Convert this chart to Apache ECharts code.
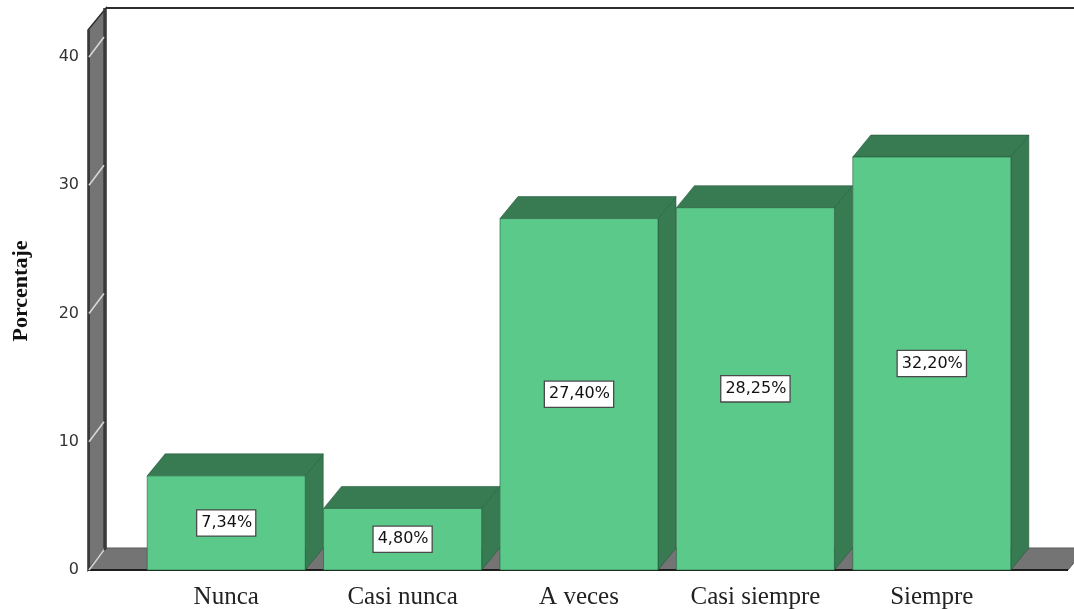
<!DOCTYPE html>
<html>
<head>
<meta charset="utf-8">
<script src="https://cdn.jsdelivr.net/npm/echarts@6/dist/echarts.min.js"></script>
<style>
  html, body { margin: 0; padding: 0; background: #fff; }
  #chart { width: 1074px; height: 609px; }
</style>
</head>
<body>
<div id="chart"></div>
<script>
// Frequency of answers, in percent
const categories = ['Nunca', 'Casi nunca', 'A veces', 'Casi siempre', 'Siempre'];
const percentages = [7.34, 4.80, 27.40, 28.25, 32.20];
const yTicks = [0, 10, 20, 30, 40];

// 3D look: depth offset of the back plane
const DEPTH_X = 18;
const DEPTH_Y = -22;

const FRONT = '#5bc98a';
const SHADE = '#387b53';
const EDGE = 'rgba(35, 85, 55, 0.7)';
const WALL = '#747474';
const WALL_EDGE = '#2e2e2e';

function fmtPct(v) {
  return v.toFixed(2).replace('.', ',') + '%';
}

// Left wall, floor and back panel of the 3D box
function renderFrame(params, api) {
  if (params.dataIndex !== 0) return;
  const cs = params.coordSys;
  const fx0 = cs.x - 50;                 // front-left edge of the wall
  const fx1 = cs.x + cs.width + 48;      // front-right end of the floor
  const yBase = api.coord([0, 0])[1];
  const yTop = cs.y - 27;
  const children = [];

  // back panel top border
  children.push({
    type: 'line',
    shape: { x1: fx0 + DEPTH_X, y1: yTop + DEPTH_Y, x2: fx1 + DEPTH_X + 20, y2: yTop + DEPTH_Y },
    style: { stroke: WALL_EDGE, lineWidth: 2 }
  });

  // floor
  children.push({
    type: 'polygon',
    shape: { points: [
      [fx0, yBase], [fx1, yBase],
      [fx1 + DEPTH_X, yBase + DEPTH_Y], [fx0 + DEPTH_X, yBase + DEPTH_Y]
    ] },
    style: { fill: WALL, stroke: '#5a5a5a', lineWidth: 1 }
  });
  children.push({
    type: 'line',
    shape: { x1: fx0, y1: yBase, x2: fx1, y2: yBase },
    style: { stroke: '#1e1e1e', lineWidth: 2 }
  });

  // left wall
  children.push({
    type: 'polygon',
    shape: { points: [
      [fx0, yBase], [fx0, yTop],
      [fx0 + DEPTH_X, yTop + DEPTH_Y], [fx0 + DEPTH_X, yBase + DEPTH_Y]
    ] },
    style: { fill: WALL, stroke: WALL_EDGE, lineWidth: 1.5 }
  });
  children.push({
    type: 'line',
    shape: { x1: fx0 + DEPTH_X - 1.5, y1: yTop + DEPTH_Y, x2: fx0 + DEPTH_X - 1.5, y2: yBase + DEPTH_Y },
    style: { stroke: '#3a3a3a', lineWidth: 2.5 }
  });
  children.push({
    type: 'line',
    shape: { x1: fx0 + 1, y1: yTop, x2: fx0 + 1, y2: yBase },
    style: { stroke: '#3a3a3a', lineWidth: 2 }
  });

  // tick guide lines across the wall
  yTicks.forEach(function (t) {
    const y = api.coord([0, t])[1];
    children.push({
      type: 'line',
      shape: { x1: fx0 + 1, y1: y, x2: fx0 + DEPTH_X - 2, y2: y + DEPTH_Y + 2 },
      style: { stroke: '#d8d8d8', lineWidth: 1.5 }
    });
  });

  return { type: 'group', children: children };
}

// Extruded bars with a value tag on the front face
function renderBar(params, api) {
  const idx = api.value(0);
  const val = api.value(1);
  const top = api.coord([idx, val]);
  const base = api.coord([idx, 0]);
  const w = api.size([1, 0])[0] * 0.896;
  const x0 = top[0] - w / 2;
  const x1 = top[0] + w / 2;
  const yT = top[1];
  const yB = base[1];

  return {
    type: 'group',
    children: [
      {
        type: 'polygon',
        shape: { points: [[x1, yB], [x1, yT], [x1 + DEPTH_X, yT + DEPTH_Y], [x1 + DEPTH_X, yB + DEPTH_Y]] },
        style: { fill: SHADE, stroke: EDGE, lineWidth: 0.8 }
      },
      {
        type: 'polygon',
        shape: { points: [[x0, yT], [x1, yT], [x1 + DEPTH_X, yT + DEPTH_Y], [x0 + DEPTH_X, yT + DEPTH_Y]] },
        style: { fill: SHADE, stroke: EDGE, lineWidth: 0.8 }
      },
      {
        type: 'rect',
        shape: { x: x0, y: yT, width: w, height: yB - yT },
        style: { fill: FRONT, stroke: EDGE, lineWidth: 0.8 }
      },
      {
        type: 'text',
        style: {
          text: fmtPct(val),
          x: top[0],
          y: (yT + yB) / 2,
          align: 'center',
          verticalAlign: 'middle',
          fill: '#111',
          font: '16px "DejaVu Sans"',
          backgroundColor: '#fff',
          borderColor: '#4a4a4a',
          borderWidth: 1.3,
          padding: [5, 3, 4, 4]
        }
      }
    ]
  };
}

const chart = echarts.init(document.getElementById('chart'), null, { renderer: 'canvas' });

chart.setOption({
  animation: false,
  backgroundColor: '#fff',
  grid: { left: 138, right: 54, top: 57, bottom: 39, containLabel: false, outerBoundsMode: 'none' },
  xAxis: {
    type: 'category',
    data: categories,
    axisLine: { show: false },
    axisTick: { show: false },
    axisLabel: {
      margin: 15,
      color: '#222',
      fontFamily: '"Liberation Serif", "Times New Roman", serif',
      fontSize: 25
    }
  },
  yAxis: {
    type: 'value',
    min: 0,
    max: 40,
    interval: 10,
    name: 'Porcentaje',
    nameLocation: 'middle',
    nameGap: 106,
    nameTextStyle: {
      color: '#111',
      fontFamily: '"Liberation Serif", "Times New Roman", serif',
      fontWeight: 'bold',
      fontSize: 22,
      padding: [0, 0, 0, 45]
    },
    axisLine: { show: false },
    axisTick: { show: false },
    splitLine: { show: false },
    axisLabel: {
      margin: 59,
      color: '#333',
      fontFamily: '"DejaVu Sans", sans-serif',
      fontSize: 16
    }
  },
  series: [
    {
      type: 'custom',
      silent: true,
      z: 1,
      renderItem: renderFrame,
      data: [[0, 0]]
    },
    {
      type: 'custom',
      z: 2,
      renderItem: renderBar,
      encode: { x: 0, y: 1 },
      data: percentages.map(function (v, i) { return [i, v]; })
    }
  ]
});
</script>
</body>
</html>
